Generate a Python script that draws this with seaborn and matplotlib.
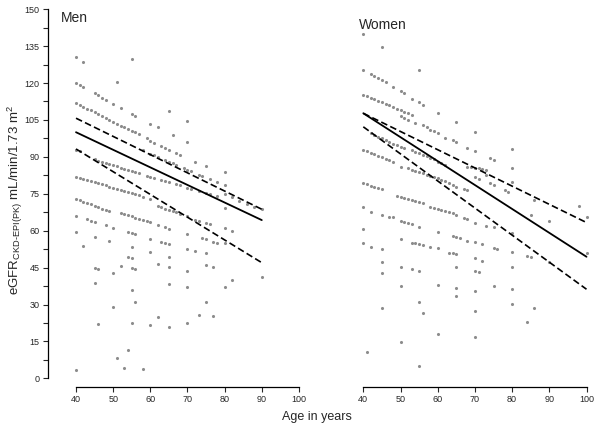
import matplotlib
matplotlib.use('Agg')
import matplotlib.pyplot as plt
from matplotlib.ticker import MultipleLocator
import seaborn as sns

# men: age (years) and eGFR
men_age = [40, 42, 55, 51, 40, 41, 42, 45, 46, 47, 48, 50, 52, 55, 56, 60, 62, 65, 70, 66, 70, 72, 75, 80, 80, 80,
           40, 41, 42, 43, 44, 45, 46, 47, 48, 49, 50, 51, 52, 53, 54, 55, 56, 57, 59, 60, 61, 63, 64, 65, 67, 68,
           82, 84, 86, 88, 90,
           58, 60, 61, 62, 64, 65, 66, 67, 69, 70, 71, 73, 74, 76, 78,
           40, 41, 45, 46, 47, 48, 49, 50, 51, 52, 53, 54, 55, 56, 57, 59, 60, 61, 63, 64, 65, 67, 68, 70, 71, 73, 75, 76, 78,
           40, 41, 42, 43, 44, 45, 46, 47, 48, 49, 50, 51, 52, 53, 54, 55, 56, 57, 58, 60, 62, 63, 64, 65, 66, 67, 68, 70, 72, 73, 75, 76,
           40, 41, 42, 43, 44, 45, 46, 47, 48, 49, 52, 53, 54, 55, 56, 57, 58, 59, 60, 62, 64, 65,
           40, 43, 44, 45, 48, 50,
           40, 42, 45, 45, 46, 45, 46, 49, 50, 50, 51, 52, 53, 54, 54, 55, 56, 55, 54, 55, 55, 56, 55, 56, 55, 58,
           60, 60, 60, 62, 62, 63, 64, 65, 65, 65, 65, 65, 70, 70, 70, 70, 70, 72, 73, 74, 75, 75, 75, 75,
           77, 77, 77, 78, 80, 80, 80, 82, 82, 90, 80, 40]
men_egfr = [130.7, 128.7, 129.8, 120.3, 120.2, 119.2, 118.3, 116.0, 115.0, 114.1, 113.1, 111.5, 109.7, 107.4, 106.6,
            103.5, 102.3, 108.5, 104.6, 98.9, 95.9, 88.1, 86.4, 83.8, 78.7, 74.8,
            112.0, 111.1, 110.4, 109.6, 108.9, 108.1, 107.4, 106.6, 105.8, 105.0, 104.2, 103.4, 102.7, 102.0, 101.3,
            100.7, 100.0, 99.2, 97.6, 96.6, 95.8, 94.4, 93.5, 92.8, 91.4, 90.7,
            73.5, 72.0, 70.8, 69.5, 68.7,
            92.8, 91.2, 90.6, 89.9, 88.6, 88.0, 87.3, 86.7, 85.4, 84.8, 84.1, 82.8, 82.2, 80.9, 79.6,
            92.9, 92.2, 89.0, 88.5, 88.0, 87.6, 87.1, 86.6, 86.1, 85.6, 85.2, 84.7, 84.2, 83.8, 83.3, 82.4, 81.9, 81.4,
            80.6, 80.1, 79.7, 78.8, 78.4, 77.5, 77.0, 76.2, 75.3, 74.9, 74.0,
            82.0, 81.6, 81.1, 80.6, 80.2, 79.7, 79.3, 78.8, 78.4, 77.9, 77.5, 77.0, 76.6, 76.1, 75.7, 75.2, 74.8, 74.3,
            73.8, 72.9, 70.0, 69.5, 69.0, 68.5, 68.0, 67.4, 66.8, 66.0, 64.4, 64.0, 63.0, 62.6,
            72.9, 72.3, 71.8, 71.2, 70.7, 70.1, 69.6, 69.0, 68.5, 67.9, 67.1, 66.7, 66.2, 65.8, 65.3, 64.9, 64.4, 64.0,
            63.4, 62.3, 61.4, 60.8,
            65.9, 64.6, 64.1, 63.5, 62.2, 61.2,
            59.6, 53.8, 57.6, 44.7, 44.3, 38.6, 22.1, 55.9, 43.0, 29.1, 8.1, 45.8, 4.0, 11.5, 59.3, 58.9, 58.5, 53.5,
            49.2, 48.8, 45.0, 44.4, 35.9, 31.2, 22.6, 3.6,
            56.6, 51.5, 21.8, 46.3, 25.0, 55.2, 54.8, 54.4, 49.4, 45.1, 38.3, 21.0, 58.7, 52.6, 43.6, 37.0, 22.3, 51.9,
            25.6, 56.9, 56.5, 50.8, 46.1, 30.9,
            45.4, 25.3, 55.5, 55.1, 54.8, 37.3, 61.0, 60.0, 39.9, 41.0, 69.1, 3.4]

# women
women_age = [40, 45, 40, 55,
             42, 43, 44, 45, 46, 48, 50, 51, 53, 55, 56, 60, 65, 70,
             40, 41, 42, 43, 44, 45, 46, 47, 48, 49, 50, 51, 52, 53,
             50, 51, 52, 54, 56, 57, 58, 59, 60, 62, 64, 65, 68, 70, 74, 75,
             80, 80, 80, 86,
             42, 43, 44, 45, 46, 47, 48, 49, 50, 51, 53, 54, 55, 56, 57, 58, 59, 60, 61, 62,
             40, 41, 42, 43, 44, 45, 46, 47, 48, 50, 52, 53, 54, 55, 56, 57, 58, 59, 60, 61, 62, 63, 64, 65, 67, 68,
             68, 69, 70, 71, 72, 73, 70, 71, 73, 74, 75, 78, 79,
             40, 41, 42, 43, 44, 45,
             49, 50, 51, 52, 53, 54, 55, 56, 58, 59, 60, 61, 62, 63, 64, 65, 67, 68, 70, 73, 75,
             40, 42, 45, 47, 48, 50, 51, 52, 53, 55,
             40, 60, 50, 53, 54, 55, 56, 58, 60, 63, 64, 65, 70, 72, 64, 65, 66, 68, 70, 72, 75, 76,
             40, 42, 45, 45, 45, 50, 53, 55, 65, 70, 71,
             80, 80, 80, 84, 85, 85, 90, 98, 100, 100, 90,
             50, 60, 65, 70, 75, 80, 55, 65, 70, 80, 45, 56, 86, 84, 60, 70, 50, 41, 55]
women_egfr = [140.0, 134.8, 125.3, 125.1,
              123.7, 122.9, 122.1, 121.3, 120.5, 118.2, 116.6, 116.0, 113.7, 112.2, 111.1, 108.0, 104.2, 100.2,
              115.2, 114.6, 114.0, 113.4, 112.7, 112.1, 111.5, 110.9, 110.2, 109.6, 109.0, 108.4, 107.8, 107.1,
              106.4, 105.7, 105.0, 103.6, 102.9, 102.3, 101.0, 100.3, 99.6, 97.8, 96.9, 96.2, 93.5, 92.4, 89.4, 88.7,
              93.2, 85.6, 79.9, 72.4,
              99.6, 98.9, 98.2, 97.5, 96.8, 96.1, 95.4, 94.7, 94.1, 93.4, 92.8, 92.1, 91.5, 90.9, 90.3, 89.7, 89.0,
              87.9, 87.3, 86.6,
              92.8, 92.2, 91.6, 91.0, 90.4, 89.8, 89.2, 88.6, 88.1, 86.0, 85.3, 84.8, 84.3, 83.9, 83.4, 82.8, 82.3, 81.9,
              81.3, 80.6, 80.0, 79.3, 78.6, 77.9, 77.0, 76.5,
              85.9, 85.8, 85.6, 85.3, 85.0, 84.7, 81.7, 81.1, 82.6, 79.3, 78.6, 76.6, 75.9,
              79.3, 78.8, 78.3, 77.8, 77.3, 76.8,
              74.0, 73.6, 73.2, 72.8, 72.4, 72.0, 71.6, 71.2, 69.7, 69.3, 68.9, 68.4, 68.0, 67.6, 67.1, 66.4, 65.0,
              64.6, 63.3, 61.9, 61.4,
              69.5, 67.7, 66.4, 65.7, 65.4, 64.1, 63.5, 63.0, 62.6, 61.6,
              60.7, 59.3, 56.5, 55.1, 54.9, 54.6, 54.3, 53.5, 52.8, 51.1, 50.8, 50.5, 48.8, 47.8, 57.8, 57.3, 56.9,
              55.9, 55.4, 54.6, 52.8, 52.4,
              54.9, 53.5, 52.4, 47.4, 42.9, 45.4, 44.3, 43.8, 45.1, 43.7, 43.4,
              58.9, 51.5, 45.1, 49.7, 49.5, 66.4, 64.1, 70.0, 65.4, 50.8, 47.4,
              37.7, 37.9, 36.8, 35.5, 37.7, 36.3, 30.9, 33.6, 27.5, 30.1, 28.7, 26.4, 28.7, 23.0, 17.9, 16.6, 14.6,
              10.6, 5.1]

# fitted lines (end points)
men_line_age = [40, 90]
men_fit = [100.0, 64.3]
men_upper = [105.7, 68.7]
men_lower = [93.2, 47.0]
women_line_age = [40, 100]
women_fit = [107.7, 49.4]
women_upper = [107.7, 63.3]
women_lower = [102.2, 36.2]

y_ticks = [0, 15, 30, 45, 60, 75, 90, 105, 120, 135, 150]
x_ticks = [40, 50, 60, 70, 80, 90, 100]

sns.set_style('white')
plt.rcParams['font.family'] = ['Liberation Sans', 'DejaVu Sans']
plt.rcParams['mathtext.fontset'] = 'custom'
plt.rcParams['mathtext.rm'] = 'Liberation Sans'

fig = plt.figure(figsize=(6, 4.29), dpi=100)
ax1 = fig.add_axes([0.08, 0.0986, 0.4244, 0.880])
ax2 = fig.add_axes([0.5931, 0.0986, 0.3906, 0.880])

dot_col = '#8c8c8c'

def draw_panel(ax, age, egfr, lx, fit, up, lo, xlim, title, tx, ty):
    sns.scatterplot(x=age, y=egfr, ax=ax, color=dot_col, s=5, linewidth=0, marker='o')
    sns.lineplot(x=lx, y=fit, ax=ax, color='black', linewidth=1.3)
    sns.lineplot(x=lx, y=up, ax=ax, color='black', linewidth=1.2, dashes=False, linestyle=(0, (4, 2)))
    sns.lineplot(x=lx, y=lo, ax=ax, color='black', linewidth=1.2, dashes=False, linestyle=(0, (4, 2)))
    ax.set_xlim(*xlim)
    ax.set_ylim(-3.4, 150)
    ax.set_xticks(x_ticks)
    ax.set_xlabel('')
    ax.set_ylabel('')
    for s in ['top', 'right']:
        ax.spines[s].set_visible(False)
    ax.spines['bottom'].set_bounds(40, 100)
    ax.spines['bottom'].set_linewidth(0.9)
    ax.spines['bottom'].set_color('black')
    ax.tick_params(axis='x', direction='out', length=3.5, width=0.8, pad=2.5, labelsize=6.5, bottom=True)
    ax.text(tx, ty, title, transform=ax.transAxes, fontsize=10, va='center')

draw_panel(ax1, men_age, men_egfr, men_line_age, men_fit, men_upper, men_lower, (32.46, 101), 'Men', 0.052, 0.976)
draw_panel(ax2, women_age, women_egfr, women_line_age, women_fit, women_upper, women_lower, (38, 101), 'Women', 0.014, 0.958)

ax1.set_yticks(y_ticks)
ax1.yaxis.set_minor_locator(MultipleLocator(7.5))
ax1.spines['left'].set_bounds(0, 150)
ax1.spines['left'].set_linewidth(0.9)
ax1.spines['left'].set_color('black')
ax1.tick_params(axis='y', which='both', direction='out', length=3.5, width=0.8, pad=2.5, labelsize=6.5, left=True)

ax2.spines['left'].set_visible(False)
ax2.set_yticks([])

fig.text(0.026, 0.535, r'eGFR$_{\mathregular{CKD\text{-}EPI(PK)}}$ mL/min/1.73 m$^{\mathregular{2}}$',
         rotation=90, va='center', ha='center', fontsize=9.5)
fig.text(0.528, 0.028, 'Age in years', ha='center', va='center', fontsize=9)

plt.savefig('out.png', dpi=100)
